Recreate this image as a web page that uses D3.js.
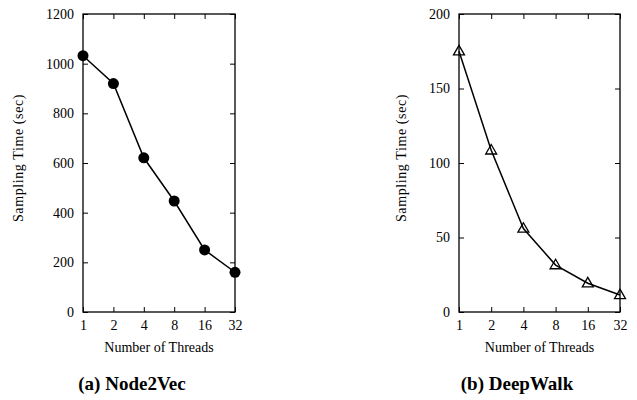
<!DOCTYPE html>
<meta charset="utf-8">
<style>
  body { margin: 0; background: #fff; }
  text { font-family: "Liberation Serif", "Times New Roman", serif; fill: #000; }
</style>
<svg id="chart" width="637" height="400"></svg>
<script src="https://d3js.org/d3.v7.min.js"></script>
<script>
// thread counts on the x axis
var threads = [1, 2, 4, 8, 16, 32]
// sampling time (sec)
var node2vec = [1032, 920, 621, 447, 250, 160]
var deepwalk = [175, 108.5, 56, 31.5, 19.3, 11.4]
var node2vecTicks = [0, 200, 400, 600, 800, 1000, 1200]
var deepwalkTicks = [0, 50, 100, 150, 200]

var svg = d3.select("#chart")

function panel(cfg) {
  var g = svg.append("g")
  var x = d3.scaleLog().base(2).domain([1, 32]).range([cfg.left, cfg.right])
  var y = d3.scaleLinear().domain([0, cfg.ymax]).range([312, 14])

  // mirrored inward ticks on all four sides
  g.append("g").attr("transform", "translate(0,312)")
    .call(d3.axisBottom(x).tickValues(threads).tickFormat(d3.format("d")).tickSizeInner(-5).tickSizeOuter(0).tickPadding(8))
  g.append("g").attr("transform", "translate(0,14)")
    .call(d3.axisTop(x).tickValues(threads).tickFormat("").tickSizeInner(-5).tickSizeOuter(0))
  g.append("g").attr("transform", "translate(" + cfg.left + ",0)")
    .call(d3.axisLeft(y).tickValues(cfg.ticks).tickFormat(d3.format("d")).tickSizeInner(-5).tickSizeOuter(0).tickPadding(9))
  g.append("g").attr("transform", "translate(" + cfg.right + ",0)")
    .call(d3.axisRight(y).tickValues(cfg.ticks).tickFormat("").tickSizeInner(-5).tickSizeOuter(0))
  g.selectAll(".domain").remove()
  g.selectAll(".tick line").attr("stroke", "#000").attr("stroke-width", 1)
  g.selectAll(".tick text").style("font-size", "14px")

  g.append("rect")
    .attr("x", cfg.left).attr("y", 14)
    .attr("width", cfg.right - cfg.left).attr("height", 298)
    .attr("fill", "none").attr("stroke", "#000").attr("stroke-width", 1.3)

  var line = d3.line().x((d, i) => x(threads[i])).y(d => y(d))
  g.append("path").datum(cfg.values)
    .attr("d", line).attr("fill", "none").attr("stroke", "#000").attr("stroke-width", 1.5)

  if (cfg.marker == "circle") {
    g.selectAll("circle.pt").data(cfg.values).join("circle")
      .attr("cx", (d, i) => x(threads[i])).attr("cy", d => y(d))
      .attr("r", 5.5).attr("fill", "#000")
  } else {
    var tri = d3.symbol().type(d3.symbolTriangle).size(52)
    g.selectAll("path.pt").data(cfg.values).join("path")
      .attr("d", tri)
      .attr("transform", (d, i) => "translate(" + x(threads[i]) + "," + (y(d) + 0.5) + ")")
      .attr("fill", "none").attr("stroke", "#000").attr("stroke-width", 1.3)
  }

  var cx = (cfg.left + cfg.right) / 2
  g.append("text").attr("x", cx).attr("y", 352)
    .attr("text-anchor", "middle").style("font-size", "14px")
    .text("Number of Threads")
  g.append("text")
    .attr("transform", "translate(" + cfg.ylabX + ",158) rotate(-90)")
    .attr("text-anchor", "middle").style("font-size", "14px").style("letter-spacing", "0.6px")
    .text("Sampling Time (sec)")
  g.append("text").attr("x", cfg.capX).attr("y", 390)
    .attr("text-anchor", "middle").style("font-size", "19px").style("font-weight", "bold")
    .text(cfg.caption)
}

panel({ left: 83, right: 235, ymax: 1200, ticks: node2vecTicks, values: node2vec,
        marker: "circle", ylabX: 23, capX: 132, caption: "(a) Node2Vec" })
panel({ left: 459, right: 620, ymax: 200, ticks: deepwalkTicks, values: deepwalk,
        marker: "triangle", ylabX: 406, capX: 517, caption: "(b) DeepWalk" })
</script>
